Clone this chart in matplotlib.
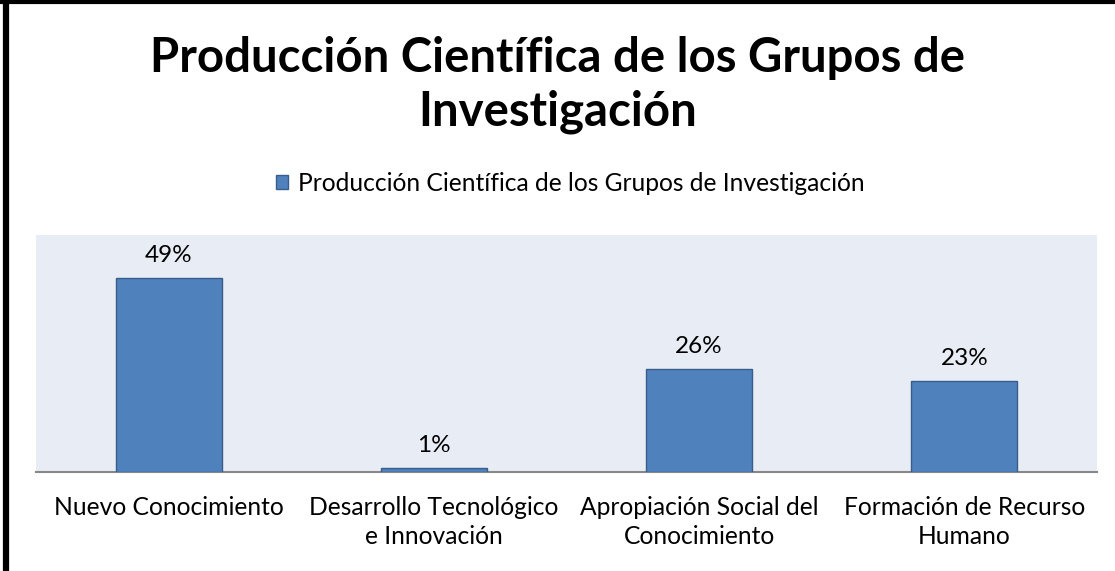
import matplotlib
matplotlib.use("Agg")
import matplotlib.pyplot as plt
from matplotlib.lines import Line2D

plt.rcParams['font.family'] = ['Lato', 'DejaVu Sans']

categories = ["Nuevo Conocimiento", "Desarrollo Tecnológico\ne Innovación",
              "Apropiación Social del\nConocimiento", "Formación de Recurso\nHumano"]
values = [49, 1, 26, 23]
series_name = "Producción Científica de los Grupos de Investigación"
title = "Producción Científica de los Grupos de\nInvestigación"

fig = plt.figure(figsize=(11.15, 5.71), dpi=100)
W, H = 1115, 571
ax = fig.add_axes([36 / W, (571 - 472) / H, (1097 - 36) / W, (472 - 235) / H])
ax.set_facecolor('#E8ECF4')

x = list(range(len(categories)))
bars = ax.bar(x, values, width=0.4, color='#4F81BD', edgecolor='#385D8A',
              linewidth=1.0, label=series_name, zorder=3)
ax.bar_label(bars, labels=[f"{v}%" for v in values], padding=9, fontsize=17.5,
             color='#000000')

ax.set_xlim(-0.5, len(categories) - 0.5)
ax.set_ylim(0, 60)
ax.set_yticks([])
ax.set_xticks(x)
ax.set_xticklabels(categories, fontsize=17.7, linespacing=1.35)
ax.tick_params(axis='x', length=0, pad=17)
for s in ['top', 'right', 'left']:
    ax.spines[s].set_visible(False)
ax.spines['bottom'].set_color('#888888')
ax.spines['bottom'].set_linewidth(1.5)

fig.text(0.5, 1 - 85 / H, title, ha='center', va='center', fontsize=34,
         fontweight='bold', linespacing=1.27)

leg = fig.legend(handles=[bars], labels=[series_name], loc='center',
                 bbox_to_anchor=(570 / W, 1 - 183 / H), frameon=False,
                 fontsize=17.7, handlelength=0.5, handleheight=0.5,
                 handletextpad=0.4)

# outer border (top and left only visible)
fig.add_artist(Line2D([0, 1], [1 - 1.5 / H, 1 - 1.5 / H], transform=fig.transFigure,
                      color='black', linewidth=3))
fig.add_artist(Line2D([6 / W, 6 / W], [0, 1], transform=fig.transFigure,
                      color='black', linewidth=4.5))

fig.savefig("out.png", dpi=100)
